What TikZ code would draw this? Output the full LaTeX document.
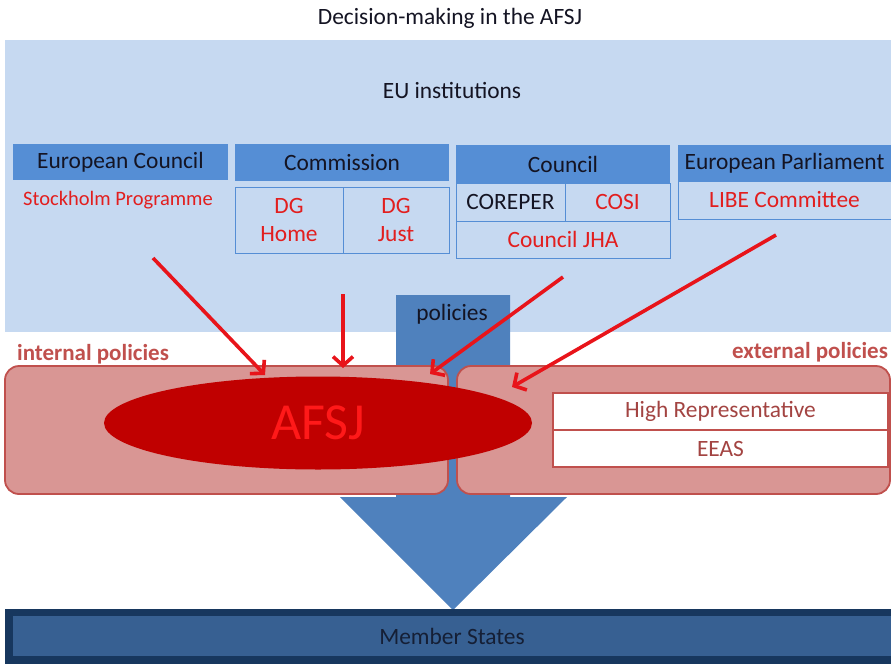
\documentclass[tikz,border=0pt]{standalone}
\usepackage{fontspec}
\setmainfont{Carlito}
\usetikzlibrary{arrows.meta,shapes.geometric}
\definecolor{panelblue}{RGB}{198,217,241}
\definecolor{headblue}{RGB}{85,142,213}
\definecolor{arrowblue}{RGB}{79,129,189}
\definecolor{pinkfill}{RGB}{217,150,148}
\definecolor{pinkedge}{RGB}{192,80,77}
\definecolor{darkred}{RGB}{192,0,0}
\definecolor{txtred}{RGB}{226,30,30}
\definecolor{arrred}{RGB}{232,20,26}
\definecolor{navy}{RGB}{23,55,94}
\definecolor{midnavy}{RGB}{55,96,146}
\definecolor{inktext}{RGB}{20,20,35}
\tikzset{
  head/.style={fill=headblue,draw=none,inner sep=0,outer sep=0,text=inktext,font=\fontsize{23.4}{28}\selectfont},
  subbox/.style={fill=panelblue,draw=headblue,line width=0.8pt,inner sep=0,outer sep=0,text=txtred,font=\fontsize{23.4}{28}\selectfont,align=center},
  redarrow/.style={draw=arrred,line width=3.6pt,-{Straight Barb[length=9pt,width=20pt,line width=3.6pt]}},
  pinkbox/.style={fill=pinkfill,draw=pinkedge,line width=1.8pt,rounded corners=14pt},
  hrbox/.style={fill=white,draw=pinkedge,line width=1.4pt,inner sep=0,outer sep=0,text=pinkedge!85!black,font=\fontsize{23.4}{28}\selectfont},
  plain/.style={font=\fontsize{23.4}{28}\selectfont,text=inktext},
}
\begin{document}
\begin{tikzpicture}[x=1pt,y=-1pt]
\useasboundingbox (0,0) rectangle (891,664);
% title
\node[plain] (title) at (450,18) {Decision-making in the AFSJ};
% panel
\fill[panelblue] (5,40) rectangle (891,332);
\node[plain] (eu) at (452,90) {EU institutions};
% European Council
\node[head,minimum width=215pt,minimum height=36pt] (ec) at (120.5,162) {European Council};
\node[text=txtred,font=\fontsize{20.5}{24}\selectfont] (stock) at (118,200) {Stockholm Programme};
% Commission
\node[head,minimum width=214pt,minimum height=37pt] (com) at (342,162.5) {Commission};
\node[subbox,minimum width=108pt,minimum height=66pt] (dgh) at (289,220) {DG\\Home};
\node[subbox,minimum width=106pt,minimum height=66pt] (dgj) at (396,220) {DG\\Just};
% Council
\node[head,minimum width=214pt,minimum height=38pt] (cou) at (563,164) {Council};
\node[subbox,minimum width=109pt,minimum height=38pt,text=inktext] (corep) at (510.5,202) {COREPER};
\node[subbox,minimum width=105pt,minimum height=38pt] (cosi) at (617.5,202) {COSI};
\node[subbox,minimum width=214pt,minimum height=37pt] (jha) at (563,239.5) {Council JHA};
% European Parliament
\node[head,minimum width=213pt,minimum height=36pt] (ep) at (784.5,163) {European Parliament};
\node[subbox,minimum width=213pt,minimum height=38pt] (libe) at (784.5,200) {LIBE Committee};
% policies arrow
\fill[arrowblue] (396,295) -- (510,295) -- (510,497) -- (567,497) -- (453,610) -- (340,497) -- (396,497) -- cycle;
\node[plain] (pol) at (452,314) {policies};
% labels
\node[font=\bfseries\fontsize{23}{28}\selectfont,text=pinkedge] (intp) at (93,354) {internal policies};
\node[font=\bfseries\fontsize{23}{28}\selectfont,text=pinkedge] (extp) at (810,352) {external policies};
% pink boxes
\draw[pinkbox] (5,366) rectangle (448,494);
\draw[pinkbox] (457,366) rectangle (890,494);
% ellipse
\node[ellipse,fill=darkred,draw=none,minimum width=428pt,minimum height=93pt,inner sep=0,text=red!90!white,font=\fontsize{52}{58}\selectfont] (afsj) at (318,423) {AFSJ};
% HR / EEAS
\node[hrbox,minimum width=335pt,minimum height=37pt] (hr) at (720.5,411.5) {High Representative};
\node[hrbox,minimum width=335pt,minimum height=37pt] (eeas) at (720.5,448.5) {EEAS};
% Member States
\fill[navy] (5,609) rectangle (891,664);
\node[fill=midnavy,draw=none,minimum width=878pt,minimum height=40pt,inner sep=0,text=inktext!70!navy,font=\fontsize{23.4}{28}\selectfont] (ms) at (452,636) {Member States};
% red arrows
\coordinate (a1s) at (153,258);
\coordinate (a1e) at (265,375);
\coordinate (a2s) at (343,294);
\coordinate (a2e) at (343,368);
\coordinate (a3s) at (563,277);
\coordinate (a3e) at (430,374);
\coordinate (a4s) at (776,235);
\coordinate (a4e) at (512,387);
\draw[redarrow] (a1s) -- (a1e);
\draw[redarrow] (a2s) -- (a2e);
\draw[redarrow] (a3s) -- (a3e);
\draw[redarrow] (a4s) -- (a4e);
\end{tikzpicture}
\end{document}
